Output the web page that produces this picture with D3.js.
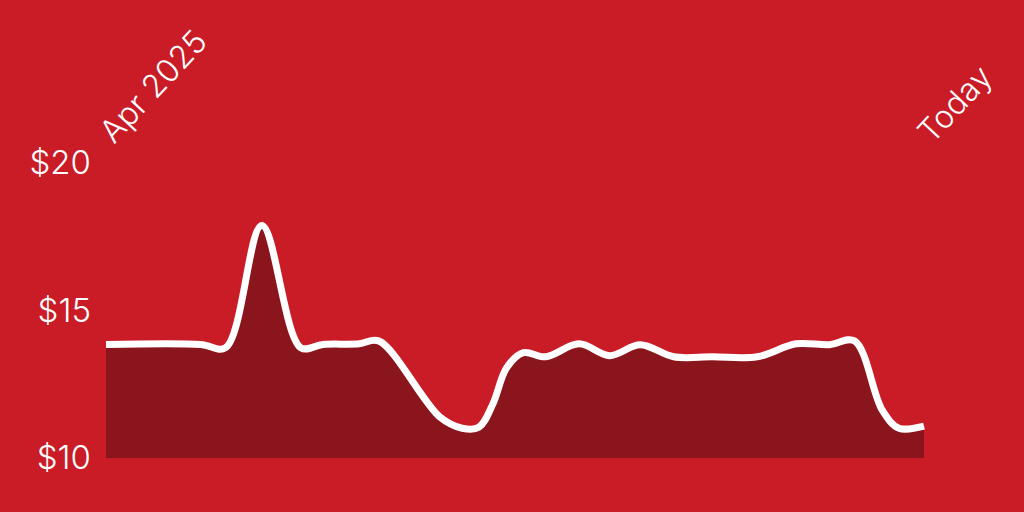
<!DOCTYPE html>
<html>
<head>
<meta charset="utf-8">
<script src="https://cdn.jsdelivr.net/npm/d3@7"></script>
<style>
  html, body { margin: 0; padding: 0; background: #c91c27; }
  svg { display: block; }
</style>
</head>
<body>
<div id="graf"></div>
<script>
// price readings
const dates = ["2025-04-01", "2025-05-05", "2025-05-14", "2025-05-27", "2025-06-10",
  "2025-06-18", "2025-07-01", "2025-07-08", "2025-07-30",
  "2025-08-07", "2025-08-13", "2025-08-18", "2025-08-23", "2025-08-29", "2025-09-06",
  "2025-09-18", "2025-09-29", "2025-10-10", "2025-10-22", "2025-11-05", "2025-11-21",
  "2025-12-05", "2025-12-17", "2025-12-26", "2026-01-05", "2026-01-11",
  "2026-01-20"]
const prices = [13.85, 13.85, 13.74, 17.88, 13.74,
  13.85, 13.87, 13.97, 11.39,
  11.01, 11.04, 11.82, 13.06, 13.57, 13.43,
  13.87, 13.47, 13.84, 13.43, 13.43, 13.43,
  13.87, 13.84, 13.97, 11.62, 11.01,
  11.08]
const yTicks = [10, 15, 20]
const xLabels = ["Apr 2025", "Today"]

const width = 1024
const height = 512
const margin = ({top: 163, right: 100, bottom: 54, left: 106})

const parse = d3.timeParse("%Y-%m-%d")
const data = dates.map((d, i) => ({date: parse(d), price: prices[i]}))

const x = d3.scaleTime()
    .domain(d3.extent(data, d => d.date))
    .range([margin.left, width - margin.right])

const y = d3.scaleLinear()
    .domain([10, 20])
    .range([height - margin.bottom, margin.top])

const curve = d3.curveCatmullRom.alpha(0.5)

const area = d3.area()
    .curve(curve)
    .x(d => x(d.date))
    .y0(y(10))
    .y1(d => y(d.price))

const line = d3.line()
    .curve(curve)
    .x(d => x(d.date))
    .y(d => y(d.price))

const svg = d3.create("svg")
    .attr("width", width)
    .attr("height", height)
    .attr("viewBox", [0, 0, width, height])
    .style("font-family", "Inter, 'Noto Sans', sans-serif")

svg.append("rect")
    .attr("width", width)
    .attr("height", height)
    .attr("fill", "#c91c27")

svg.append("path")
    .attr("fill", "#8b151c")
    .attr("d", area(data))

svg.append("path")
    .attr("fill", "none")
    .attr("stroke", "#fff")
    .attr("stroke-width", 7)
    .attr("stroke-linejoin", "round")
    .attr("d", line(data))

// y axis: labels only
svg.append("g")
    .attr("transform", `translate(${margin.left},0)`)
    .call(d3.axisLeft(y).tickValues(yTicks).tickFormat(d => "$" + d).tickSize(0).tickPadding(15))
    .call(g => g.select(".domain").remove())
    .call(g => g.selectAll("text")
        .attr("fill", "#fff")
        .attr("font-size", 33)
        .attr("font-family", "Inter, 'Noto Sans', sans-serif")
        .attr("font-weight", 300))

// rotated start / end labels
const ends = d3.extent(data, d => d.date)
svg.append("g")
  .selectAll("text")
  .data(ends)
  .join("text")
    .attr("transform", d => `translate(${x(d) + 8},145) rotate(-47)`)
    .attr("fill", "#fff")
    .attr("font-size", 32)
    .attr("font-weight", 300)
    .text((d, i) => xLabels[i])

d3.select("#graf").append(() => svg.node())
</script>
</body>
</html>
